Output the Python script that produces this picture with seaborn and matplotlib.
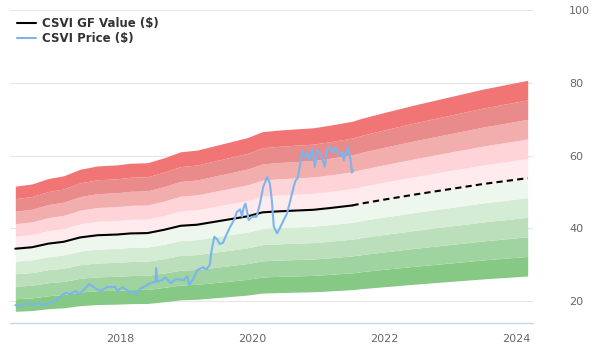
import numpy as np
import pandas as pd
import seaborn as sns
from matplotlib import pyplot as plt

# GF Value (solid = past, dashed = projection)
gf_years = [2016.42, 2016.67, 2016.92, 2017.15, 2017.40, 2017.66, 2017.96, 2018.16,
            2018.42, 2018.67, 2018.92, 2019.17, 2019.93, 2020.16, 2020.43, 2020.93,
            2021.19, 2021.52]
gf_values = [34.4, 34.8, 35.8, 36.3, 37.5, 38.1, 38.3, 38.6,
             38.7, 39.6, 40.7, 41.0, 43.3, 44.4, 44.7, 45.1,
             45.6, 46.3]
future_years = [2021.52, 2021.65, 2022.0, 2022.5, 2023.0, 2023.5, 2024.17]
future_values = [46.3, 46.8, 47.9, 49.4, 50.8, 52.2, 53.8]

# CSVI price
price_years = [2016.42, 2016.50, 2016.59, 2016.67, 2016.77, 2016.85, 2016.95, 2017.03,
               2017.10, 2017.18, 2017.25, 2017.33, 2017.38, 2017.45, 2017.54, 2017.63,
               2017.71, 2017.81, 2017.93, 2017.96, 2018.04, 2018.14, 2018.26, 2018.31,
               2018.37, 2018.46, 2018.54, 2018.55, 2018.57, 2018.64, 2018.69, 2018.77,
               2018.84, 2018.97, 2019.02, 2019.05, 2019.11, 2019.17, 2019.26, 2019.31,
               2019.36, 2019.39, 2019.43, 2019.48, 2019.51, 2019.56, 2019.61, 2019.67,
               2019.74, 2019.77, 2019.82, 2019.85, 2019.87, 2019.90, 2019.95, 2020.00,
               2020.07, 2020.12, 2020.17, 2020.23, 2020.27, 2020.30, 2020.33, 2020.38,
               2020.43, 2020.48, 2020.53, 2020.58, 2020.63, 2020.66, 2020.69, 2020.73,
               2020.76, 2020.79, 2020.83, 2020.86, 2020.91, 2020.95, 2020.99, 2021.03,
               2021.07, 2021.10, 2021.14, 2021.18, 2021.22, 2021.26, 2021.29, 2021.32,
               2021.36, 2021.39, 2021.41, 2021.43, 2021.45, 2021.47, 2021.49, 2021.50,
               2021.51, 2021.53]
price_values = [18.9, 18.6, 19.5, 18.9, 19.4, 18.9, 19.5, 20.1,
                21.2, 22.3, 21.9, 22.8, 21.9, 23.0, 24.7, 23.5,
                22.8, 23.9, 23.9, 22.8, 23.8, 22.6, 22.1, 23.5,
                23.9, 24.9, 25.3, 29.0, 25.3, 25.8, 26.5, 24.9,
                26.0, 25.8, 26.9, 24.4, 26.0, 28.5, 29.3, 28.7,
                29.9, 34.0, 37.7, 36.8, 35.7, 36.0, 38.1, 40.4,
                42.7, 44.5, 45.2, 43.2, 45.5, 46.8, 42.3, 43.2,
                43.2, 46.8, 51.4, 54.1, 52.3, 47.7, 40.4, 38.6,
                40.4, 42.3, 44.1, 47.7, 51.4, 53.2, 53.7, 57.8,
                61.5, 59.2, 61.0, 58.7, 61.9, 56.9, 61.5, 60.6,
                58.7, 56.9, 61.9, 62.4, 60.6, 62.2, 61.0, 60.1,
                61.0, 58.7, 60.1, 60.7, 62.4, 60.1, 59.2, 57.4,
                55.3, 56.0]

band_mults = [0.5, 0.6, 0.7, 0.8, 0.9, 1.0, 1.1, 1.2, 1.3, 1.4, 1.5]
band_colors = ["#85c985", "#9fd39f", "#badfba", "#d4ebd4", "#eef7ee",
               "#ffebed", "#ffd4d8", "#f2adad", "#e98b8b", "#f27575"]

sns.set_theme(style="white")
plt.rcParams["font.family"] = ["DejaVu Sans"]

fig = plt.figure(figsize=(6, 3.6), dpi=100)
ax = fig.add_axes([0.0167, 0.103, 0.8716, 0.869])

# value bands around the GF Value line
gf_all = pd.DataFrame({"Year": gf_years + future_years[1:],
                       "GF": gf_values + future_values[1:]})
for i in range(len(band_mults) - 1):
    ax.fill_between(gf_all["Year"], gf_all["GF"] * band_mults[i],
                    gf_all["GF"] * band_mults[i + 1],
                    color=band_colors[i], linewidth=0, zorder=1)

df_gf = pd.DataFrame({"Year": gf_years, "Value": gf_values})
df_future = pd.DataFrame({"Year": future_years, "Value": future_values})
df_price = pd.DataFrame({"Year": price_years, "Value": price_values})

sns.lineplot(data=df_gf, x="Year", y="Value", color="black", linewidth=1.5,
             label="CSVI GF Value ($)", ax=ax, zorder=3)
sns.lineplot(data=df_future, x="Year", y="Value", color="black", linewidth=1.5,
             linestyle=(0, (3, 2)), ax=ax, zorder=3)
sns.lineplot(data=df_price, x="Year", y="Value", color="#7cb5ec", linewidth=1.5,
             label="CSVI Price ($)", ax=ax, zorder=4)

ax.set_xlim(2016.34, 2024.25)
ax.set_ylim(14, 100)
ax.set_xticks([2018, 2020, 2022, 2024])
ax.set_yticks([20, 40, 60, 80, 100])
ax.yaxis.tick_right()
ax.grid(axis="y", color="#e6e6e6", linewidth=0.8, zorder=0)
ax.set_axisbelow(True)
ax.set_xlabel("")
ax.set_ylabel("")
for side in ["top", "left", "right"]:
    ax.spines[side].set_visible(False)
ax.spines["bottom"].set_color("#ccd6eb")
ax.spines["bottom"].set_linewidth(1)
ax.tick_params(axis="x", colors="#ccd6eb", length=5, width=1, labelsize=8,
               labelcolor="#666666", pad=3)
ax.tick_params(axis="y", length=0, labelsize=8, labelcolor="#666666", pad=26)

leg = ax.legend(loc="upper left", bbox_to_anchor=(0.0, 1.0), frameon=False,
                handlelength=1.6, handletextpad=0.5, borderaxespad=0.2,
                labelspacing=0.15, prop={"weight": "bold", "size": 8.5})
for t in leg.get_texts():
    t.set_color("#333333")

fig.savefig("out.png", dpi=100)
